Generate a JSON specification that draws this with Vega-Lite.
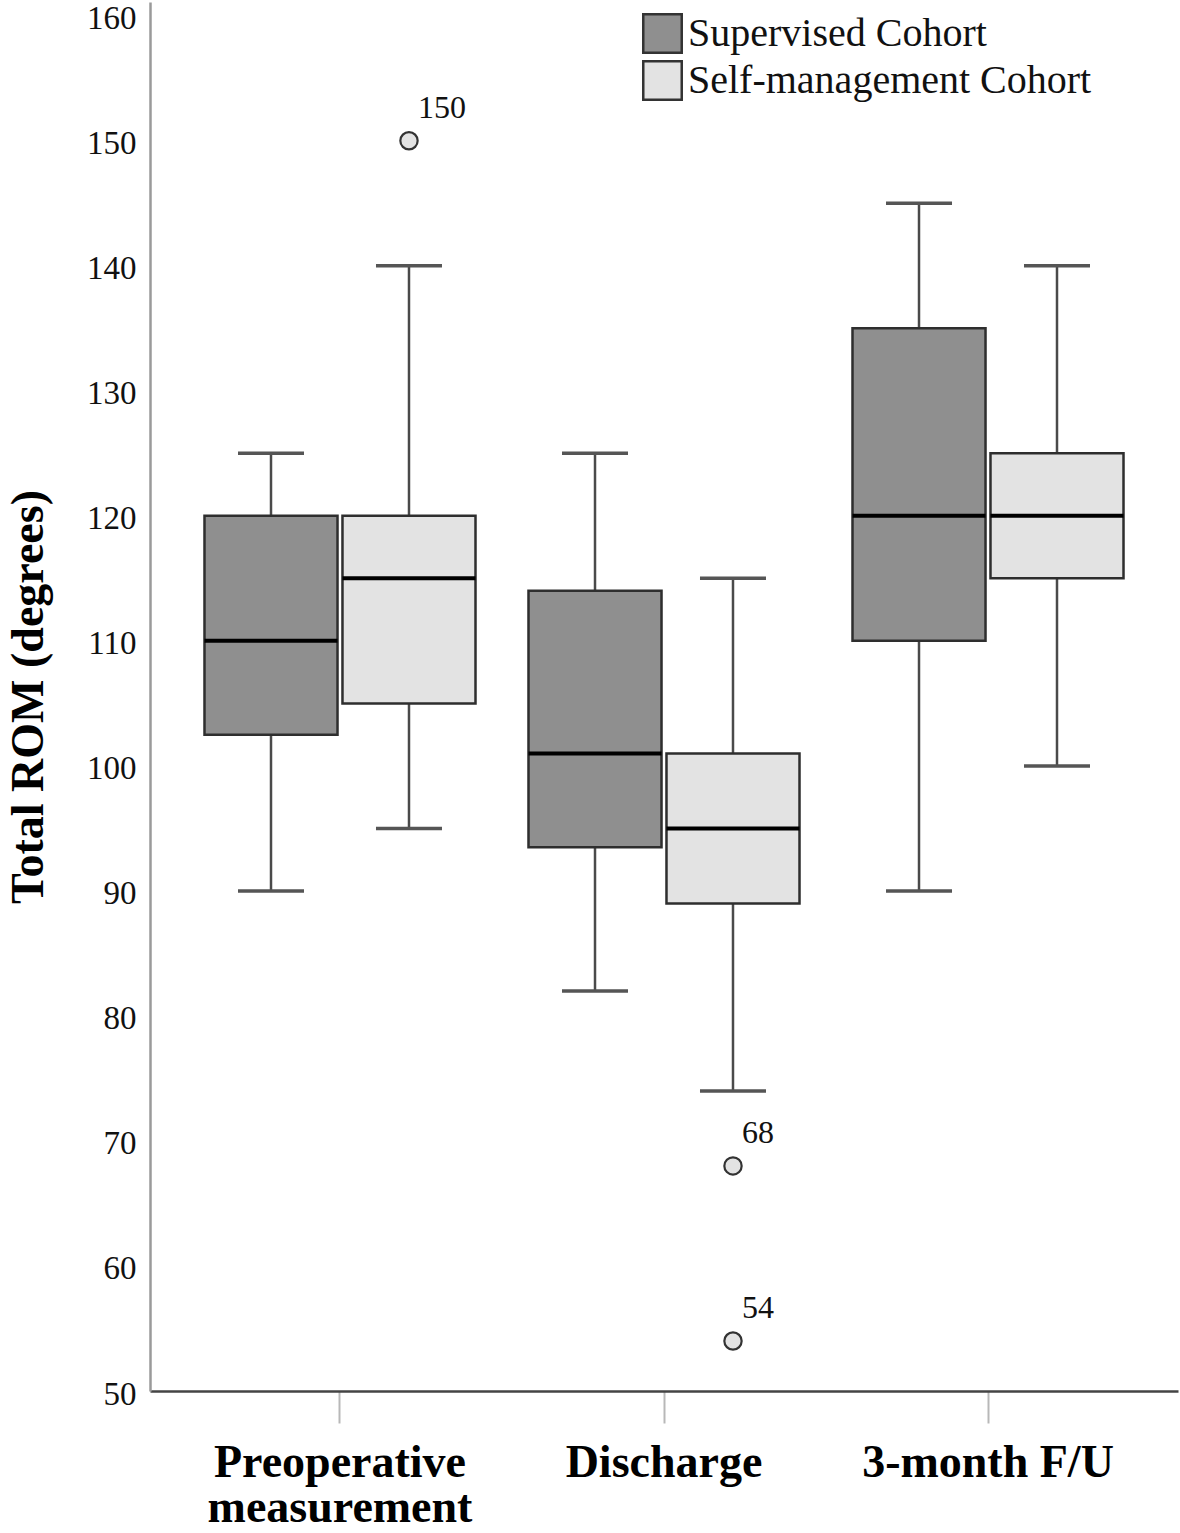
{
  "$schema": "https://vega.github.io/schema/vega-lite/v6.json",
  "width": 1028,
  "height": 1389,
  "autosize": {"type": "none"},
  "padding": {"left": 150, "top": 2, "right": 2, "bottom": 142},
  "background": "white",
  "config": {
    "view": {"stroke": null},
    "font": "Liberation Serif"
  },
  "datasets": {
    "boxes": [
      {"time": "Preoperative measurement", "cohort": "Supervised Cohort", "min": 90, "q1": 102.5, "median": 110, "q3": 120, "max": 125},
      {"time": "Preoperative measurement", "cohort": "Self-management Cohort", "min": 95, "q1": 105, "median": 115, "q3": 120, "max": 140},
      {"time": "Discharge", "cohort": "Supervised Cohort", "min": 82, "q1": 93.5, "median": 101, "q3": 114, "max": 125},
      {"time": "Discharge", "cohort": "Self-management Cohort", "min": 74, "q1": 89, "median": 95, "q3": 101, "max": 115},
      {"time": "3-month F/U", "cohort": "Supervised Cohort", "min": 90, "q1": 110, "median": 120, "q3": 135, "max": 145},
      {"time": "3-month F/U", "cohort": "Self-management Cohort", "min": 100, "q1": 115, "median": 120, "q3": 125, "max": 140}
    ],
    "outliers": [
      {"time": "Preoperative measurement", "cohort": "Self-management Cohort", "value": 150, "label": "150"},
      {"time": "Discharge", "cohort": "Self-management Cohort", "value": 68, "label": "68"},
      {"time": "Discharge", "cohort": "Self-management Cohort", "value": 54, "label": "54"}
    ]
  },
  "encoding": {
    "x": {
      "field": "time",
      "type": "nominal",
      "sort": ["Preoperative measurement", "Discharge", "3-month F/U"],
      "scale": {"paddingInner": 0, "paddingOuter": 0.0864},
      "axis": {
        "title": null,
        "labelAngle": 0,
        "labelFont": "Liberation Serif",
        "labelFontSize": 46,
        "labelFontWeight": "bold",
        "labelColor": "#000",
        "labelLineHeight": 45,
        "labelPadding": 17,
        "labelLimit": 500,
        "labelExpr": "datum.value == 'Preoperative measurement' ? ['Preoperative', 'measurement'] : datum.value",
        "tickColor": "#b8b8b8",
        "tickSize": 32,
        "tickWidth": 2,
        "domainColor": "#444",
        "domainWidth": 2.5,
        "grid": false
      }
    },
    "xOffset": {
      "field": "cohort",
      "type": "nominal",
      "sort": ["Supervised Cohort", "Self-management Cohort"],
      "scale": {"paddingInner": 0.036, "paddingOuter": 0.192}
    }
  },
  "layer": [
    {
      "data": {"name": "boxes"},
      "mark": {"type": "rule", "color": "#4a4a4a", "strokeWidth": 2.5},
      "encoding": {
        "y": {
          "field": "min",
          "type": "quantitative",
          "scale": {"domain": [50, 161.1], "nice": false, "zero": false},
          "axis": {
            "title": "Total ROM (degrees)",
            "titleFont": "Liberation Serif",
            "titleFontSize": 46,
            "titleFontWeight": "bold",
            "titleColor": "#000",
            "titlePadding": 34,
            "values": [50, 60, 70, 80, 90, 100, 110, 120, 130, 140, 150, 160],
            "labelFont": "Liberation Serif",
            "labelFontSize": 33,
            "labelColor": "#111",
            "labelPadding": 14,
            "labelOffset": 3,
            "ticks": false,
            "grid": false,
            "domainColor": "#9a9a9a",
            "domainWidth": 2.5
          }
        },
        "y2": {"field": "q1"}
      }
    },
    {
      "data": {"name": "boxes"},
      "mark": {"type": "rule", "color": "#4a4a4a", "strokeWidth": 2.5},
      "encoding": {
        "y": {"field": "q3", "type": "quantitative"},
        "y2": {"field": "max"}
      }
    },
    {
      "data": {"name": "boxes"},
      "mark": {"type": "tick", "color": "#555", "size": 66, "thickness": 3.5, "opacity": 1},
      "encoding": {
        "y": {"field": "min", "type": "quantitative"}
      }
    },
    {
      "data": {"name": "boxes"},
      "mark": {"type": "tick", "color": "#555", "size": 66, "thickness": 3.5, "opacity": 1},
      "encoding": {
        "y": {"field": "max", "type": "quantitative"}
      }
    },
    {
      "data": {"name": "boxes"},
      "mark": {"type": "bar", "stroke": "#2e2e2e", "strokeWidth": 2.5, "opacity": 1},
      "encoding": {
        "y": {"field": "q1", "type": "quantitative"},
        "y2": {"field": "q3"},
        "fill": {
          "field": "cohort",
          "type": "nominal",
          "scale": {"domain": ["Supervised Cohort", "Self-management Cohort"], "range": ["#8f8f8f", "#e3e3e3"]},
          "legend": {
            "title": null,
            "orient": "none",
            "legendX": 492,
            "legendY": 11,
            "padding": 0,
            "symbolType": "square",
            "symbolSize": 1480,
            "symbolStrokeColor": "#333",
            "symbolStrokeWidth": 2.5,
            "symbolOpacity": 1,
            "labelFont": "Liberation Serif",
            "labelFontSize": 40,
            "labelColor": "#111",
            "labelOffset": 5,
            "rowPadding": -2,
            "labelLimit": 600
          }
        }
      }
    },
    {
      "data": {"name": "boxes"},
      "mark": {"type": "tick", "color": "#000", "size": 133, "thickness": 4, "opacity": 1},
      "encoding": {
        "y": {"field": "median", "type": "quantitative"}
      }
    },
    {
      "data": {"name": "outliers"},
      "mark": {"type": "point", "shape": "circle", "filled": false, "fill": "#e3e3e3", "fillOpacity": 1, "stroke": "#333", "strokeWidth": 2.2, "size": 300, "opacity": 1},
      "encoding": {
        "y": {"field": "value", "type": "quantitative"}
      }
    },
    {
      "data": {"name": "outliers"},
      "mark": {"type": "text", "align": "left", "baseline": "alphabetic", "dx": 9, "dy": -23, "font": "Liberation Serif", "fontSize": 32, "color": "#111"},
      "encoding": {
        "y": {"field": "value", "type": "quantitative"},
        "text": {"field": "label"}
      }
    }
  ]
}
